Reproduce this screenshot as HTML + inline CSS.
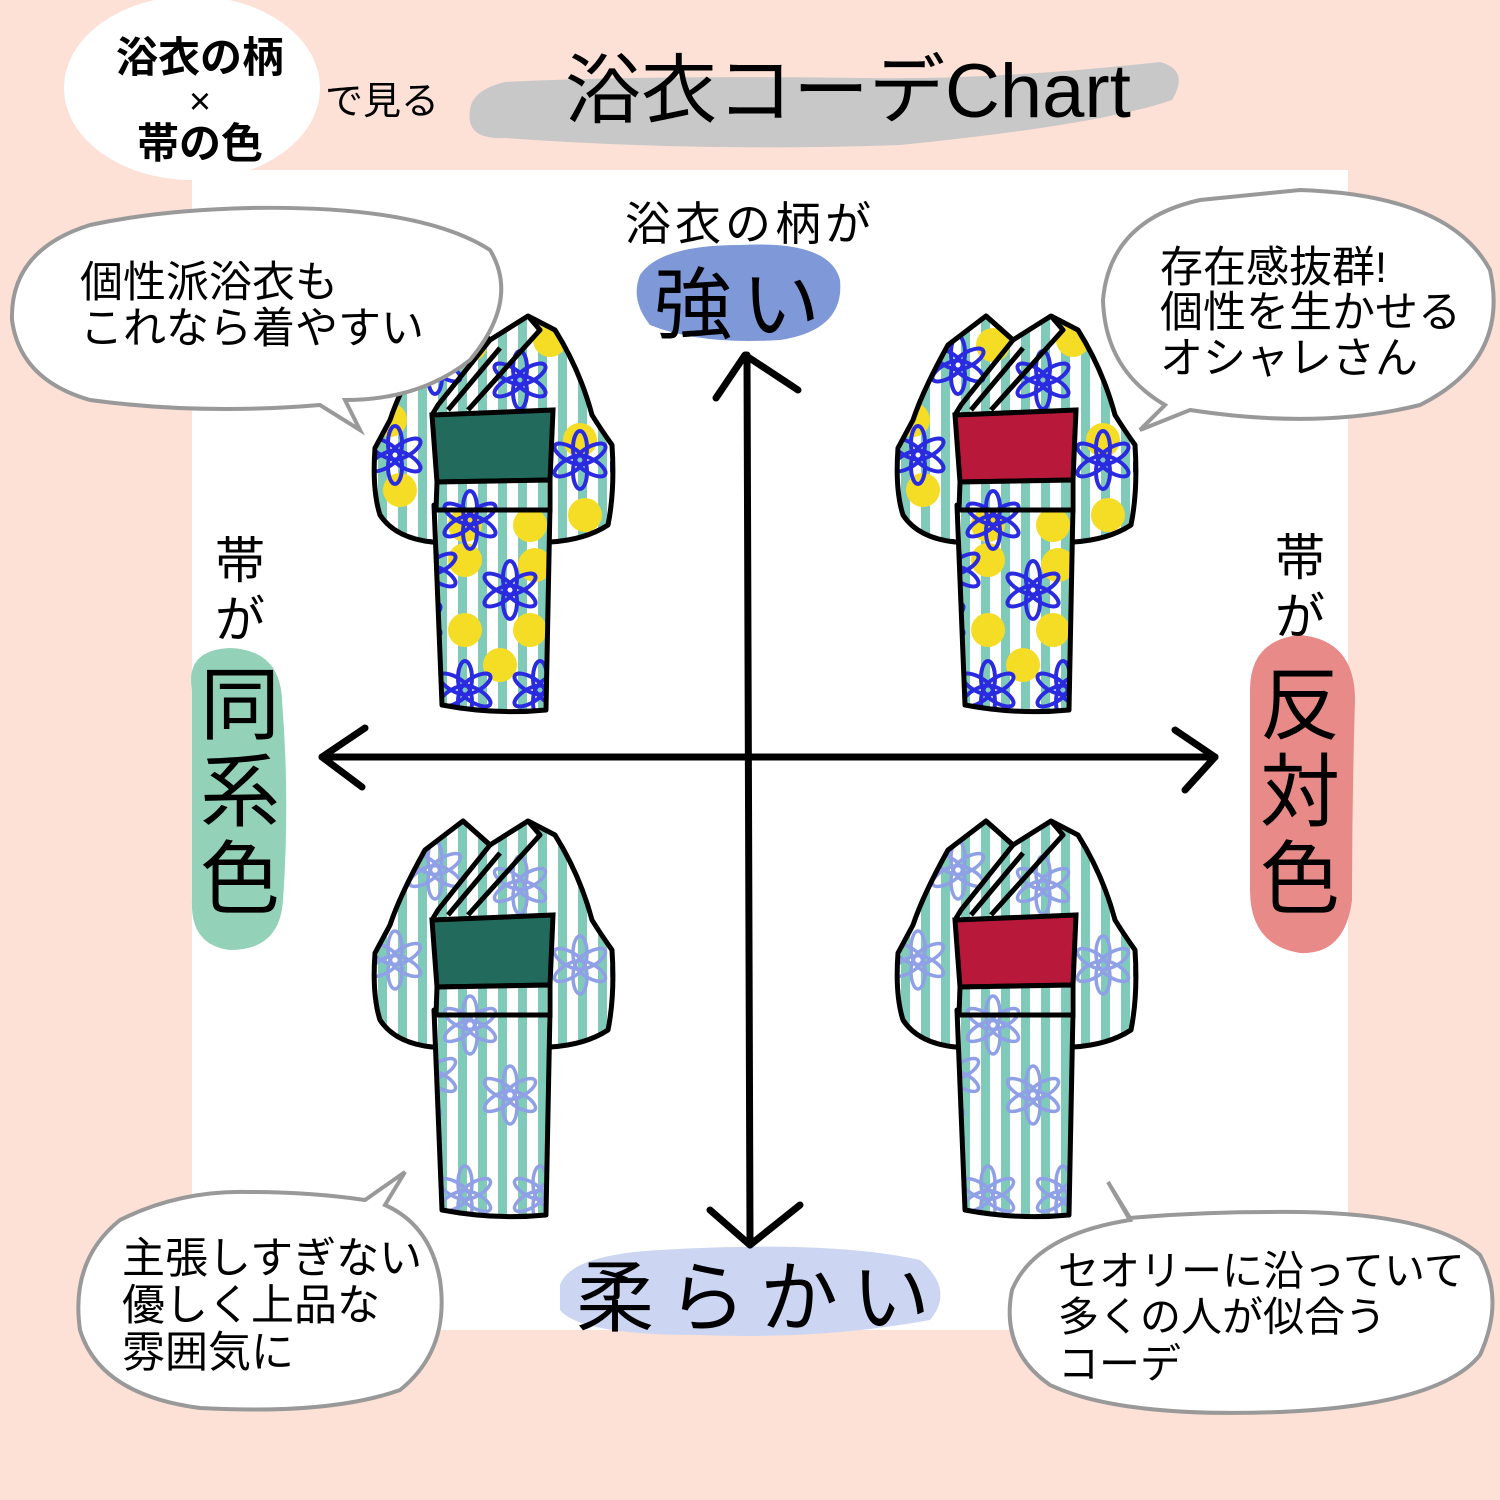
<!DOCTYPE html>
<html><head><meta charset="utf-8"><style>
html,body{margin:0;padding:0;background:#fde0d6}
svg{display:block}
text{font-family:"Liberation Sans","Noto Sans CJK JP",sans-serif}
</style></head><body>
<svg width="1500" height="1500" viewBox="0 0 1500 1500" xmlns="http://www.w3.org/2000/svg">
<defs>
<g id="fl"><ellipse rx="7" ry="17" cy="-12"/><ellipse rx="7" ry="17" cy="-12" transform="rotate(60)"/><ellipse rx="7" ry="17" cy="-12" transform="rotate(120)"/><ellipse rx="7" ry="17" cy="-12" transform="rotate(180)"/><ellipse rx="7" ry="17" cy="-12" transform="rotate(240)"/><ellipse rx="7" ry="17" cy="-12" transform="rotate(300)"/></g>
<g id="stripes" fill="#7fcab8"><rect x="8" y="0" width="9" height="420"/><rect x="28" y="0" width="9" height="420"/><rect x="48" y="0" width="9" height="420"/><rect x="68" y="0" width="9" height="420"/><rect x="88" y="0" width="9" height="420"/><rect x="108" y="0" width="9" height="420"/><rect x="128" y="0" width="9" height="420"/><rect x="148" y="0" width="9" height="420"/><rect x="168" y="0" width="9" height="420"/><rect x="188" y="0" width="9" height="420"/><rect x="208" y="0" width="9" height="420"/><rect x="228" y="0" width="9" height="420"/></g>
<g id="flowers">
<use href="#fl" x="65" y="55"/><use href="#fl" x="150" y="70"/><use href="#fl" x="25" y="145"/><use href="#fl" x="210" y="150"/><use href="#fl" x="100" y="210"/><use href="#fl" x="140" y="280"/><use href="#fl" x="95" y="380"/><use href="#fl" x="60" y="260"/><use href="#fl" x="170" y="380"/><use href="#fl" x="45" y="310"/>
</g>
<pattern id="pA" width="240" height="420" patternUnits="userSpaceOnUse">
<rect width="240" height="420" fill="#fff"/>
<use href="#stripes"/>
<g fill="#f5dd25"><circle cx="100" cy="35" r="17"/><circle cx="20" cy="110" r="17"/><circle cx="210" cy="130" r="17"/><circle cx="30" cy="180" r="17"/><circle cx="95" cy="215" r="17"/><circle cx="160" cy="215" r="17"/><circle cx="215" cy="205" r="17"/><circle cx="95" cy="250" r="17"/><circle cx="165" cy="255" r="17"/><circle cx="95" cy="320" r="17"/><circle cx="160" cy="320" r="17"/><circle cx="130" cy="355" r="17"/><circle cx="180" cy="30" r="17"/></g>
<g fill="none" stroke="#2a2ae0" stroke-width="4"><use href="#flowers"/></g>
</pattern>
<pattern id="pB" width="240" height="420" patternUnits="userSpaceOnUse">
<rect width="240" height="420" fill="#fff"/>
<use href="#stripes"/>
<g fill="none" stroke="#8fa0e6" stroke-width="3.5"><use href="#flowers"/></g>
</pattern>
<g id="kshape" stroke="#000" stroke-width="5" stroke-linejoin="round">
<path d="M93,6 L55,35 Q30,80 20,110 L5,138 Q2,180 10,205 Q25,228 62,232 L180,232 Q215,230 238,215 Q245,180 242,135 Q230,118 222,105 Q210,60 185,20 L158,6 L120,30 Z"/>
<path d="M64,195 L180,195 L176,400 Q125,405 72,395 Z"/>
<path d="M93,6 L120,30 L68,95 L62,105" fill="none"/>
<path d="M158,6 L170,20 L98,100" fill="none"/>
<path d="M130,38 L78,100" fill="none"/>
</g>
<g id="kimA"><use href="#kshape" fill="url(#pA)"/></g>
<g id="kimB"><use href="#kshape" fill="url(#pB)"/></g>
</defs>

<rect width="1500" height="1500" fill="#fde0d6"/>
<rect x="192" y="170" width="1156" height="1160" fill="#fff"/>

<path d="M470,110 Q465,140 505,138 Q700,152 900,145 Q1100,125 1172,100 Q1190,70 1160,62 Q1000,80 860,78 Q650,75 505,82 Q472,90 470,110Z" fill="#c8c8c8"/>
<text x="565" y="117" font-size="76">浴衣コーデChart</text>
<ellipse cx="192" cy="88" rx="128" ry="92" fill="#fff"/>
<text x="200" y="72" font-size="42" font-weight="bold" text-anchor="middle">浴衣の柄</text>
<text x="200" y="114" font-size="38" text-anchor="middle">×</text>
<text x="200" y="158" font-size="42" font-weight="bold" text-anchor="middle">帯の色</text>
<text x="325" y="114" font-size="38">で見る</text>

<path d="M640,275 Q660,245 740,245 Q830,240 840,280 Q845,330 780,340 Q700,345 650,325 Q630,300 640,275Z" fill="#7f98d8"/>
<path d="M560,1285 Q570,1255 660,1250 Q830,1240 920,1260 Q955,1290 930,1320 Q820,1340 700,1335 Q580,1335 560,1310Z" fill="#ccd6f2"/>
<path d="M192,690 Q185,650 230,648 Q280,650 282,700 Q290,800 283,900 Q280,950 230,950 Q190,945 192,900Z" fill="#93d2b8"/>
<path d="M1250,690 Q1250,640 1300,635 Q1355,640 1355,700 Q1352,800 1352,900 Q1345,955 1300,953 Q1250,945 1250,890Z" fill="#e78a88"/>

<text x="750" y="240" font-size="46" text-anchor="middle" letter-spacing="4">浴衣の柄が</text>
<text x="742" y="332" font-size="78" text-anchor="middle" letter-spacing="10">強い</text>
<text x="760" y="1325" font-size="78" text-anchor="middle" letter-spacing="14">柔らかい</text>
<text x="240" y="578" font-size="50" text-anchor="middle">帯</text>
<text x="240" y="637" font-size="50" text-anchor="middle">が</text>
<text x="240" y="733" font-size="80" text-anchor="middle">同</text>
<text x="240" y="820" font-size="80" text-anchor="middle">系</text>
<text x="240" y="907" font-size="80" text-anchor="middle">色</text>
<text x="1300" y="575" font-size="50" text-anchor="middle">帯</text>
<text x="1300" y="634" font-size="50" text-anchor="middle">が</text>
<text x="1300" y="733" font-size="80" text-anchor="middle">反</text>
<text x="1300" y="820" font-size="80" text-anchor="middle">対</text>
<text x="1300" y="907" font-size="80" text-anchor="middle">色</text>

<g stroke="#000" stroke-width="7" fill="none" stroke-linecap="round" stroke-linejoin="round">
<line x1="747" y1="355" x2="750" y2="1240"/>
<path d="M716,398 L745,355 L798,390"/>
<path d="M710,1210 L750,1245 L800,1205"/>
<line x1="322" y1="757" x2="1215" y2="757"/>
<path d="M365,728 L322,757 L362,787"/>
<path d="M1175,730 L1215,757 L1185,790"/>
</g>

<g transform="translate(370,310)"><use href="#kimA"/><path d="M62,105 L183,100 L180,170 L67,172Z" fill="#226b5c" stroke="#000" stroke-width="5"/><path d="M67,172 L180,170 L180,200 L66,200Z" fill="url(#pA)" stroke="#000" stroke-width="5"/></g>
<g transform="translate(893,310)"><use href="#kimA"/><path d="M62,105 L183,100 L180,170 L67,172Z" fill="#b8183a" stroke="#000" stroke-width="5"/><path d="M67,172 L180,170 L180,200 L66,200Z" fill="url(#pA)" stroke="#000" stroke-width="5"/></g>
<g transform="translate(370,815)"><use href="#kimB"/><path d="M62,105 L183,100 L180,170 L67,172Z" fill="#226b5c" stroke="#000" stroke-width="5"/><path d="M67,172 L180,170 L180,200 L66,200Z" fill="url(#pB)" stroke="#000" stroke-width="5"/></g>
<g transform="translate(893,815)"><use href="#kimB"/><path d="M62,105 L183,100 L180,170 L67,172Z" fill="#b8183a" stroke="#000" stroke-width="5"/><path d="M67,172 L180,170 L180,200 L66,200Z" fill="url(#pB)" stroke="#000" stroke-width="5"/></g>

<g fill="#fff" stroke="#999" stroke-width="4">
<path d="M250,208 Q420,205 490,250 Q520,300 470,360 Q420,400 345,400 L360,430 L320,405 Q200,415 90,400 Q20,380 12,320 Q10,250 90,225 Q160,210 250,208Z"/>
<path d="M1300,190 Q1450,195 1490,270 Q1510,360 1420,405 Q1320,430 1190,410 L1140,430 L1165,405 Q1105,370 1103,300 Q1110,220 1200,200Z"/>
<path d="M250,1192 Q180,1190 120,1220 Q70,1260 80,1330 Q100,1395 200,1408 Q330,1415 400,1390 Q450,1350 440,1280 Q430,1225 385,1205 L405,1172 L365,1200 Q310,1192 250,1192Z"/>
<path d="M1270,1212 Q1430,1210 1480,1255 Q1505,1300 1480,1355 Q1440,1405 1280,1412 Q1120,1418 1050,1385 Q1000,1350 1012,1290 Q1035,1235 1130,1220 L1108,1182 L1130,1218 Q1200,1212 1270,1212Z"/>
</g>
<g font-size="43">
<text x="80" y="297">個性派浴衣も</text>
<text x="80" y="343">これなら着やすい</text>
<text x="1160" y="282">存在感抜群!</text>
<text x="1160" y="327">個性を生かせる</text>
<text x="1160" y="373">オシャレさん</text>
<text x="122" y="1273">主張しすぎない</text>
<text x="122" y="1320">優しく上品な</text>
<text x="122" y="1367">雰囲気に</text>
</g>
<g font-size="41">
<text x="1058" y="1285">セオリーに沿っていて</text>
<text x="1058" y="1331">多くの人が似合う</text>
<text x="1058" y="1378">コーデ</text>
</g>
</svg>
</body></html>
